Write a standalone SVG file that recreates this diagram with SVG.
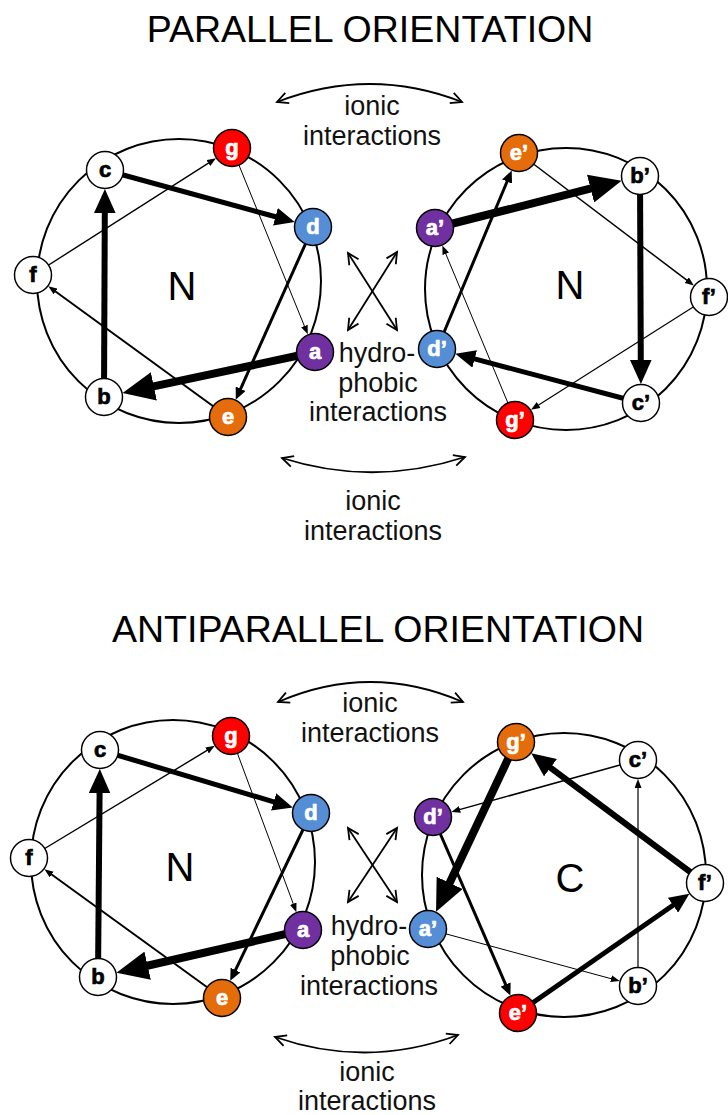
<svg xmlns="http://www.w3.org/2000/svg" width="728" height="1115" viewBox="0 0 728 1115">
  <style>
    .title { font-family: "Liberation Sans", Arial, sans-serif; font-size: 37.5px; fill: #000; text-anchor: middle; }
    .lbl { font-family: "Liberation Sans", Arial, sans-serif; font-size: 27px; fill: #111; text-anchor: middle; }
    .term { font-family: "Liberation Sans", Arial, sans-serif; font-size: 40px; fill: #000; text-anchor: middle; }
    .ring { fill: none; stroke: #000; stroke-width: 2; }
    .node circle { stroke: #000; stroke-width: 1.5; }
    .node text { font-family: "Liberation Sans", Arial, sans-serif; font-weight: bold; font-size: 22px; text-anchor: middle; stroke-width: 0.7; }
    .white circle { fill: #fff; } .white text { fill: #000; stroke: #000; }
    .red circle { fill: #ff0000; } .blue circle { fill: #558ed5; }
    .purple circle { fill: #7030a0; } .orange circle { fill: #e46c0a; }
    .red text, .blue text, .purple text, .orange text { fill: #fff; stroke: #fff; }
    .arr { stroke: #000; fill: none; stroke-linecap: butt; }
    .thick { marker-end: url(#hd); }
    .thin { marker-end: url(#hs); }
    .dbl { stroke: #000; stroke-width: 1.8; fill: none; marker-start: url(#open); marker-end: url(#open); }
  </style>
  <defs>
    <!-- filled head that scales with the shaft width -->
    <marker id="hd" markerUnits="strokeWidth" markerWidth="4" markerHeight="3.6" viewBox="0 0 4 3.6" refX="0.2" refY="1.8" orient="auto">
      <path d="M0,0 L4,1.8 L0,3.6 z" fill="#000"/>
    </marker>
    <!-- fixed-size head for hairline shafts -->
    <marker id="hs" markerUnits="userSpaceOnUse" markerWidth="9" markerHeight="7" viewBox="0 0 9 7" refX="0.5" refY="3.5" orient="auto">
      <path d="M0,0 L9,3.5 L0,7 z" fill="#000"/>
    </marker>
    <!-- open V head for the interaction arrows -->
    <marker id="open" markerUnits="userSpaceOnUse" markerWidth="16" markerHeight="16" viewBox="0 0 16 16" refX="13" refY="8" orient="auto-start-reverse">
      <path d="M2,2.5 L13,8 L2,13.5" fill="none" stroke="#000" stroke-width="1.8"/>
    </marker>
  </defs>
  <rect width="728" height="1115" fill="#fff"/>

  <!-- headings -->
  <text class="title" x="370" y="42">PARALLEL ORIENTATION</text>
  <text class="title" x="378" y="642">ANTIPARALLEL ORIENTATION</text>

  <!-- helical wheel rings -->
  <g id="rings">
    <circle class="ring" cx="179" cy="281" r="142"/>
    <circle class="ring" cx="566" cy="289" r="141"/>
    <circle class="ring" cx="173" cy="862" r="142"/>
    <circle class="ring" cx="564" cy="875" r="142"/>
  </g>

  <!-- terminus letters -->
  <text class="term" x="182" y="300">N</text>
  <text class="term" x="570" y="299">N</text>
  <text class="term" x="180" y="881">N</text>
  <text class="term" x="570" y="892">C</text>

  <!-- interaction labels -->
  <g id="labels">
    <text class="lbl" x="372" y="115">ionic</text>
    <text class="lbl" x="372" y="145">interactions</text>
    <text class="lbl" x="377" y="362">hydro-</text>
    <text class="lbl" x="378" y="392">phobic</text>
    <text class="lbl" x="378" y="421">interactions</text>
    <text class="lbl" x="373" y="510">ionic</text>
    <text class="lbl" x="373" y="540">interactions</text>

    <text class="lbl" x="370" y="712">ionic</text>
    <text class="lbl" x="370" y="742">interactions</text>
    <text class="lbl" x="369" y="935">hydro-</text>
    <text class="lbl" x="370" y="965">phobic</text>
    <text class="lbl" x="369" y="995">interactions</text>
    <text class="lbl" x="367" y="1081">ionic</text>
    <text class="lbl" x="367" y="1110">interactions</text>
  </g>

  <g id="connectors">
    <!-- parallel pair: interaction arrows -->
    <path class="dbl" d="M277,102 Q370,66 462,102"/>
    <path class="dbl" d="M282,458 Q373,487 465,457"/>
    <path class="dbl" d="M348,253 L397,330"/>
    <path class="dbl" d="M397,252 L348,330"/>

    <!-- antiparallel pair: interaction arrows -->
    <path class="dbl" d="M278,702 Q370,662 463,702"/>
    <path class="dbl" d="M275,1037 Q367,1069 458,1035"/>
    <path class="dbl" d="M348,828 L397,902"/>
    <path class="dbl" d="M397,828 L348,902"/>

    <!-- wheel 1 (parallel, left) -->
    <path class="arr thick" stroke-width="8" d="M315,352 L152.3,386.7"/>
    <path class="arr thick" stroke-width="6" d="M104,397 L104.8,211.8"/>
    <path class="arr thick" stroke-width="5" d="M105,170 L276.4,217"/>
    <path class="arr thick" stroke-width="3" d="M313,227 L240.4,389.3"/>
    <path class="arr thin" stroke-width="2" d="M228,417 L55.2,291.2"/>
    <path class="arr thin" stroke-width="1.4" d="M33,275 L208.8,162.8"/>
    <path class="arr thin" stroke-width="1" d="M232,148 L304.6,326.5"/>

    <!-- wheel 2 (parallel, right) -->
    <path class="arr thick" stroke-width="8" d="M435,228 L592.1,188.2"/>
    <path class="arr thick" stroke-width="6" d="M640,176 L640.8,361.2"/>
    <path class="arr thick" stroke-width="5" d="M641,403 L473.7,358.7"/>
    <path class="arr thick" stroke-width="3" d="M437,349 L507.3,181"/>
    <path class="arr thin" stroke-width="1.5" d="M519,153 L687.1,280.4"/>
    <path class="arr thin" stroke-width="1.2" d="M709,297 L538.2,405.3"/>
    <path class="arr thin" stroke-width="1" d="M515,420 L445.6,253.4"/>

    <!-- wheel 3 (antiparallel, left) -->
    <path class="arr thick" stroke-width="8" d="M303,930 L146.1,966"/>
    <path class="arr thick" stroke-width="6" d="M98,977 L99.6,791.8"/>
    <path class="arr thick" stroke-width="5" d="M100,750 L274.6,802.1"/>
    <path class="arr thick" stroke-width="3" d="M311,813 L235.2,970.6"/>
    <path class="arr thin" stroke-width="2" d="M222,998 L51.3,874.2"/>
    <path class="arr thin" stroke-width="1.4" d="M29,858 L207.5,750.2"/>
    <path class="arr thin" stroke-width="1" d="M231,736 L293.4,904.2"/>

    <!-- wheel 4 (antiparallel, right) -->
    <path class="arr thick" stroke-width="8" d="M516,742 L449,884.3"/>
    <path class="arr thick" stroke-width="6" d="M705,883 L549.5,767"/>
    <path class="arr thick" stroke-width="5" d="M518,1013 L673.8,904.7"/>
    <path class="arr thick" stroke-width="3" d="M433,817 L505.9,985.1"/>
    <path class="arr thin" stroke-width="1.5" d="M638,760 L459.5,809.6"/>
    <path class="arr thin" stroke-width="1.2" d="M638,986 L638,787.5"/>
    <path class="arr thin" stroke-width="1" d="M428,929 L611.5,978.8"/>
  </g>

  <!-- wheel 1 residues -->
  <g id="p1-a" class="node purple"><circle cx="315" cy="352" r="18.5"/><text x="315" y="359">a</text></g>
  <g id="p1-b" class="node white"><circle cx="104" cy="397" r="18.5"/><text x="104" y="404">b</text></g>
  <g id="p1-c" class="node white"><circle cx="105" cy="170" r="18.5"/><text x="105" y="177">c</text></g>
  <g id="p1-d" class="node blue"><circle cx="313" cy="227" r="18.5"/><text x="313" y="234">d</text></g>
  <g id="p1-e" class="node orange"><circle cx="228" cy="417" r="18.5"/><text x="228" y="424">e</text></g>
  <g id="p1-f" class="node white"><circle cx="33" cy="275" r="18.5"/><text x="33" y="282">f</text></g>
  <g id="p1-g" class="node red"><circle cx="232" cy="148" r="18.5"/><text x="232" y="155">g</text></g>

  <!-- wheel 2 residues -->
  <g id="p2-a" class="node purple"><circle cx="435" cy="228" r="18.5"/><text x="435" y="235">a’</text></g>
  <g id="p2-b" class="node white"><circle cx="640" cy="176" r="18.5"/><text x="640" y="183">b’</text></g>
  <g id="p2-c" class="node white"><circle cx="641" cy="403" r="18.5"/><text x="641" y="410">c’</text></g>
  <g id="p2-d" class="node blue"><circle cx="437" cy="349" r="18.5"/><text x="437" y="356">d’</text></g>
  <g id="p2-e" class="node orange"><circle cx="519" cy="153" r="18.5"/><text x="519" y="160">e’</text></g>
  <g id="p2-f" class="node white"><circle cx="709" cy="297" r="18.5"/><text x="709" y="304">f’</text></g>
  <g id="p2-g" class="node red"><circle cx="515" cy="420" r="18.5"/><text x="515" y="427">g’</text></g>

  <!-- wheel 3 residues -->
  <g id="a1-a" class="node purple"><circle cx="303" cy="930" r="18.5"/><text x="303" y="937">a</text></g>
  <g id="a1-b" class="node white"><circle cx="98" cy="977" r="18.5"/><text x="98" y="984">b</text></g>
  <g id="a1-c" class="node white"><circle cx="100" cy="750" r="18.5"/><text x="100" y="757">c</text></g>
  <g id="a1-d" class="node blue"><circle cx="311" cy="813" r="18.5"/><text x="311" y="820">d</text></g>
  <g id="a1-e" class="node orange"><circle cx="222" cy="998" r="18.5"/><text x="222" y="1005">e</text></g>
  <g id="a1-f" class="node white"><circle cx="29" cy="858" r="18.5"/><text x="29" y="865">f</text></g>
  <g id="a1-g" class="node red"><circle cx="231" cy="736" r="18.5"/><text x="231" y="743">g</text></g>

  <!-- wheel 4 residues -->
  <g id="a2-a" class="node blue"><circle cx="428" cy="929" r="18.5"/><text x="428" y="936">a’</text></g>
  <g id="a2-b" class="node white"><circle cx="638" cy="986" r="18.5"/><text x="638" y="993">b’</text></g>
  <g id="a2-c" class="node white"><circle cx="638" cy="760" r="18.5"/><text x="638" y="767">c’</text></g>
  <g id="a2-d" class="node purple"><circle cx="433" cy="817" r="18.5"/><text x="433" y="824">d’</text></g>
  <g id="a2-e" class="node red"><circle cx="518" cy="1013" r="18.5"/><text x="518" y="1020">e’</text></g>
  <g id="a2-f" class="node white"><circle cx="705" cy="883" r="18.5"/><text x="705" y="890">f’</text></g>
  <g id="a2-g" class="node orange"><circle cx="516" cy="742" r="18.5"/><text x="516" y="749">g’</text></g>
</svg>
